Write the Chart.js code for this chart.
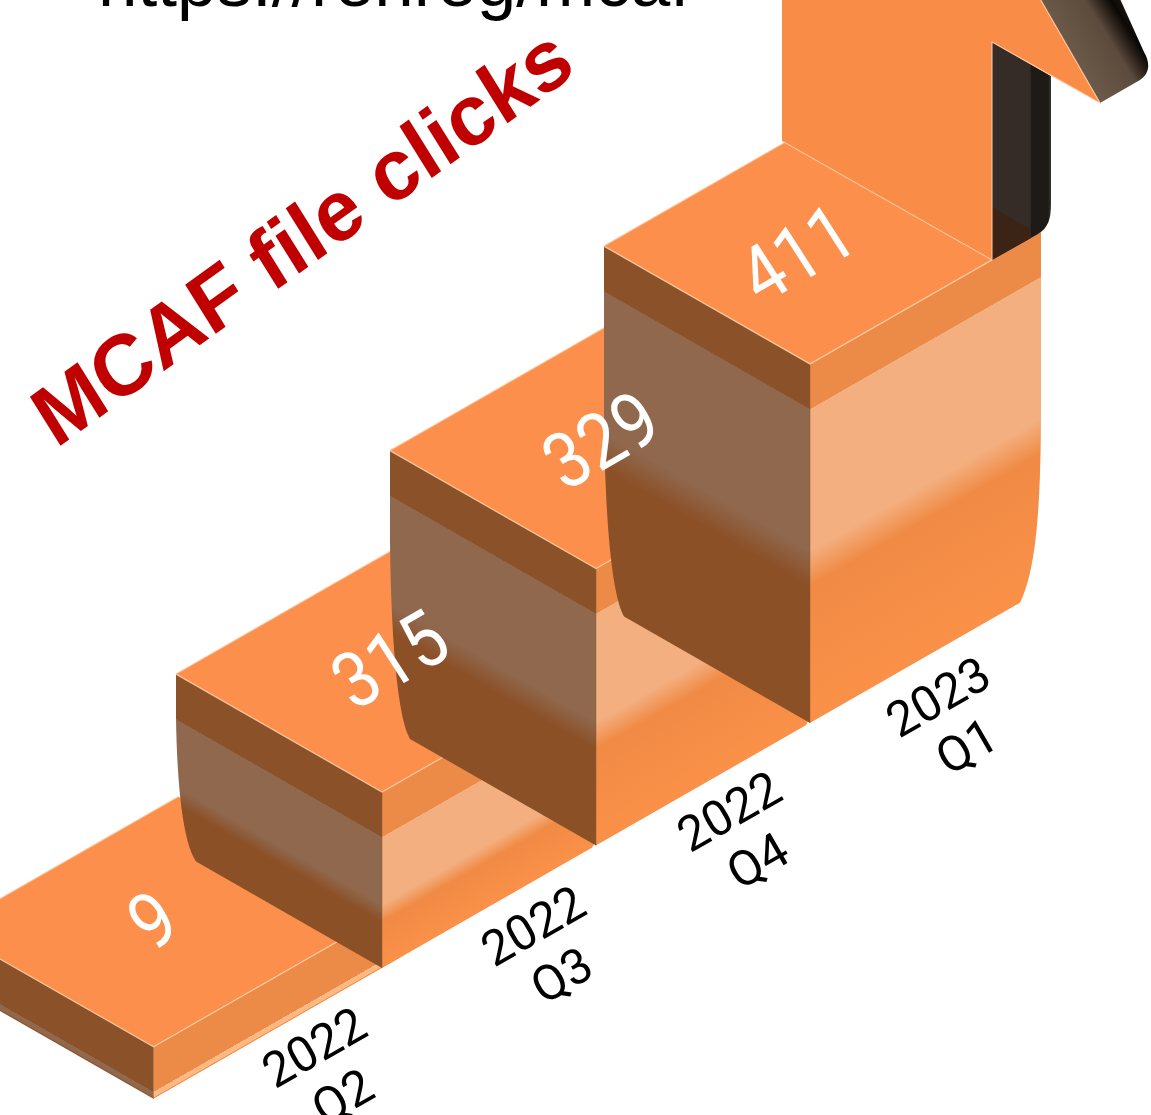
<!DOCTYPE html>
<html><head><meta charset="utf-8">
<style>html,body{margin:0;padding:0;background:#fff;overflow:hidden}#wrap{width:1151px;height:1115px}</style>
<script src="https://cdn.jsdelivr.net/npm/chart.js@4/dist/chart.umd.js"></script>
</head><body><div id="wrap"><canvas id="c" width="1151" height="1115"></canvas></div>
<script>
const categories = [['2022','Q2'],['2022','Q3'],['2022','Q4'],['2023','Q1']];
const clicks = [9,315,329,411];
const axisValues = [0,9,315,329,411];
const axisLevels = [0,52,176,277,359];
const titleText = 'MCAF file clicks';
const linkText = 'https://rehreg/mcaf';

const K = 0.5725, DEPTH = 206, RUN = 231, BAND = 45;
const FONT = '"Liberation Sans", Arial, sans-serif';
const NUMFONT = 'Roboto, "Liberation Sans", sans-serif';
const frontExtra = [14.5,0,0,0];
const valueNudge = [[3,-120],[12,-126],[9,-122],[-9,-104]];
const tickNudge = [[33,27],[38,28],[20,36],[15,44]];
const OY = K*382;

class SteppedScale extends Chart.LinearScale {
  getPixelForValue(v){
    let lvl = 0;
    for(let i=1;i<axisValues.length;i++){
      if(v<=axisValues[i]){
        const a=axisValues[i-1],b=axisValues[i];
        lvl=axisLevels[i-1]+(v-a)/(b-a)*(axisLevels[i]-axisLevels[i-1]);
        break;
      }
      lvl=axisLevels[i];
    }
    return super.getPixelForValue(lvl);
  }
}
SteppedScale.id='stepped';
SteppedScale.defaults=Chart.LinearScale.defaults;
Chart.register(SteppedScale);

function stops(h){
  const b=BAND/h;
  const f1=h<80?0.965:0.405+41.4/h;
  const f2=h<80?0.985:f1+0.1;
  return {b,f1,f2};
}
function rightGradient(c){
  const chart=c.chart,i=c.dataIndex,y=chart.scales.y;
  if(!y||i===undefined) return '#F98D48';
  const t=y.getPixelForValue(clicks[i]),b=y.getPixelForValue(0),h=b-t;
  if(!isFinite(t)||!isFinite(b)||h<=0) return '#F98D48';
  const s=stops(h),g=chart.ctx.createLinearGradient(0,t,0,b);
  g.addColorStop(0,'#EC8A47');g.addColorStop(s.b,'#EC8A47');
  const light=h<80?'#FDB984':'#F3AF80';
  g.addColorStop(s.b+0.001,light);g.addColorStop(s.f1,light);
  g.addColorStop(s.f2,'#F08A44');g.addColorStop(1,'#FB9149');
  return g;
}
function leftGradient(ctx,t,b){
  const h=b-t,s=stops(h),g=ctx.createLinearGradient(0,t,0,b);
  g.addColorStop(0,'#8B522A');g.addColorStop(s.b,'#8B522A');
  g.addColorStop(s.b+0.001,'#8F684E');g.addColorStop(s.f1,'#8F684E');
  g.addColorStop(s.f2,'#8C5027');g.addColorStop(1,'#8C5027');
  return g;
}
function scr(px,py){return [px,py-K*px+OY];}

const iso={
  id:'iso',
  beforeDatasetsDraw(chart){
    const ctx=chart.ctx,meta=chart.getDatasetMeta(0),last=meta.data.length-1;
    meta.data.forEach((el,i)=>{
      const ext=frontExtra[i];
      const w=el.width,fx=el.x-w/2-ext,top=el.y,base=el.base;
      const F=scr(fx,top),B=scr(fx,base);
      const rx=fx+RUN+ext+(ext?21:0);
      // top face
      ctx.beginPath();
      ctx.moveTo(F[0],F[1]);
      ctx.lineTo(F[0]+RUN,F[1]-K*RUN);
      ctx.lineTo(F[0]+RUN-DEPTH,F[1]-K*RUN-K*DEPTH);
      ctx.lineTo(F[0]-DEPTH,F[1]-K*DEPTH);
      ctx.closePath();
      ctx.fillStyle='#FB8F4B';ctx.fill();
      ctx.strokeStyle='rgba(255,190,140,.6)';ctx.lineWidth=1.5;
      ctx.beginPath();
      ctx.moveTo(F[0]-DEPTH,F[1]-K*DEPTH);
      ctx.lineTo(F[0]+RUN-DEPTH,F[1]-K*RUN-K*DEPTH);
      ctx.stroke();
      // left face
      ctx.save();
      ctx.transform(1,K,0,1,0,-K*F[0]);
      const h=B[1]-F[1];
      ctx.beginPath();
      ctx.moveTo(F[0],F[1]);
      ctx.lineTo(F[0]-DEPTH,F[1]);
      const cv=Math.min(186,h*0.75);
      ctx.lineTo(F[0]-DEPTH,B[1]-cv);
      ctx.bezierCurveTo(F[0]-DEPTH+1,B[1]-cv*0.5,F[0]-DEPTH+7,B[1]-cv*0.08,F[0]-DEPTH+20,B[1]);
      ctx.lineTo(F[0],B[1]);
      ctx.closePath();
      ctx.fillStyle=leftGradient(ctx,F[1],B[1]);ctx.fill();
      ctx.restore();
      // right face: the library's own bar element, sheared and clipped
      ctx.save();
      ctx.transform(1,-K,0,1,0,OY);
      ctx.beginPath();
      ctx.moveTo(fx,top);ctx.lineTo(rx,top);
      const cr=Math.min(190,(base-top)*0.75);
      ctx.lineTo(rx,base-cr);
      ctx.bezierCurveTo(rx,base-cr*0.42,rx-5,base-cr*0.13,rx-21,base);
      ctx.lineTo(fx,base);ctx.closePath();ctx.clip();
      const ow=el.width,ox=el.x;
      el.width=ow+ext*2+42;el.x=ox+21;
      el.draw(ctx);
      el.width=ow;el.x=ox;
      ctx.restore();
      // front vertical seam and light top edges
      ctx.strokeStyle='rgba(140,85,45,.45)';ctx.lineWidth=1;
      ctx.beginPath();ctx.moveTo(F[0],F[1]);ctx.lineTo(B[0],B[1]);ctx.stroke();
      ctx.strokeStyle='rgba(255,205,165,.85)';ctx.lineWidth=1.4;
      ctx.beginPath();
      ctx.moveTo(F[0]-DEPTH,F[1]-K*DEPTH);ctx.lineTo(F[0],F[1]);
      ctx.lineTo(F[0]+(i===last?182:RUN),F[1]-K*(i===last?182:RUN));
      ctx.stroke();
      if(i===last) drawArrow(ctx,F);
    });
    // value labels
    meta.data.forEach((el,i)=>{
      const fx=el.x-el.width/2-frontExtra[i];
      const F=scr(fx,el.y);
      ctx.save();
      ctx.translate(F[0]+valueNudge[i][0],F[1]+valueNudge[i][1]);
      ctx.transform(0.84,-0.485,0.6,0.93,0,0);
      ctx.fillStyle='#fff';ctx.font='400 71px '+NUMFONT;
      ctx.textAlign='center';ctx.textBaseline='middle';
      ctx.fillText(String(clicks[i]),0,0);
      ctx.restore();
    });
    // tick labels
    const xs=chart.scales.x;
    categories.forEach((lab,i)=>{
      const c=xs.getPixelForValue(i),p=scr(c,chart.scales.y.getPixelForValue(0));
      ctx.save();
      ctx.translate(p[0]+tickNudge[i][0],p[1]+tickNudge[i][1]);
      ctx.rotate(-Math.PI/6);
      ctx.fillStyle='#000';ctx.font='49px '+NUMFONT;
      ctx.textAlign='center';ctx.textBaseline='middle';
      lab.forEach((t,j)=>ctx.fillText(t,0,j*57));
      ctx.restore();
    });
    // headings
    ctx.save();
    ctx.translate(56,449);
    ctx.transform(0.811,-0.585,0.53,0.85,0,0);
    ctx.fillStyle='#C00000';ctx.font='bold 84px '+FONT;
    ctx.textAlign='left';ctx.textBaseline='alphabetic';
    ctx.fillText(titleText,0,0);
    ctx.restore();
    ctx.save();
    ctx.fillStyle='#000';ctx.font='71px '+FONT;
    ctx.textAlign='left';ctx.textBaseline='alphabetic';
    ctx.fillText(linkText,98,6);
    ctx.restore();
    return false;
  }
};

function drawArrow(ctx,F){
  const x=F[0],y=F[1];
  const P=(dx,dy)=>[x+dx,y+dy];
  const path=(pts,fill)=>{ctx.beginPath();pts.forEach((p,i)=>i?ctx.lineTo(p[0],p[1]):ctx.moveTo(p[0],p[1]));ctx.closePath();ctx.fillStyle=fill;ctx.fill();};
  // stem side
  ctx.beginPath();
  let p=P(182,-322);ctx.moveTo(p[0],p[1]);
  p=P(241,-288);ctx.lineTo(p[0],p[1]);
  p=P(241,-160);ctx.lineTo(p[0],p[1]);
  let c1=P(241,-145),c2=P(238,-136),e=P(228,-130);
  ctx.bezierCurveTo(c1[0],c1[1],c2[0],c2[1],e[0],e[1]);
  p=P(182,-104);ctx.lineTo(p[0],p[1]);
  ctx.closePath();
  const gs=ctx.createLinearGradient(x+182,0,x+241,0);
  gs.addColorStop(0,'#352B27');gs.addColorStop(0.65,'#352B27');gs.addColorStop(0.66,'#1E1A16');gs.addColorStop(0.95,'#1E1A16');gs.addColorStop(1,'#3a3632');
  ctx.fillStyle=gs;ctx.fill();
  path([P(182,-157),P(221,-134),P(221,-126),P(182,-104)],'#3B2315');
  // head side
  ctx.beginPath();
  p=P(225,-374);ctx.moveTo(p[0],p[1]);
  p=P(290,-261);ctx.lineTo(p[0],p[1]);
  p=P(330,-284);ctx.lineTo(p[0],p[1]);
  c1=P(339,-290);c2=P(341,-300);e=P(334,-312);
  ctx.bezierCurveTo(c1[0],c1[1],c2[0],c2[1],e[0],e[1]);
  p=P(306,-374);ctx.lineTo(p[0],p[1]);
  ctx.closePath();
  const gh=ctx.createLinearGradient(x+265,y-310,x+322,y-345);
  gh.addColorStop(0,'#6A5848');gh.addColorStop(0.55,'#5C4A3C');gh.addColorStop(0.75,'#2A2018');gh.addColorStop(0.88,'#0A0806');gh.addColorStop(1,'#1A1410');
  ctx.fillStyle=gh;ctx.fill();
  // arrow face
  const face=[P(-28,-374),P(-28,-223),P(182,-104),P(182,-322),P(290,-261),P(225,-374)];
  path(face,'#F98D48');
  ctx.strokeStyle='rgba(255,205,165,.85)';ctx.lineWidth=1.2;
  ctx.beginPath();
  face.slice(1).forEach((q,i)=>i?ctx.lineTo(q[0],q[1]):ctx.moveTo(q[0],q[1]));
  ctx.stroke();
}

new Chart(document.getElementById('c'),{
  type:'bar',
  data:{labels:categories,datasets:[{label:'MCAF file clicks',data:clicks,backgroundColor:rightGradient,barThickness:RUN,borderWidth:0}]},
  plugins:[iso],
  options:{
    responsive:false,animation:false,devicePixelRatio:1,
    layout:{padding:{left:176.5,right:118.5,top:568,bottom:147}},
    plugins:{legend:{display:false},tooltip:{enabled:false},title:{display:false}},
    scales:{
      x:{type:'category',display:false},
      y:{type:'stepped',display:false,min:0,max:400}
    }
  }
});
</script></body></html>
